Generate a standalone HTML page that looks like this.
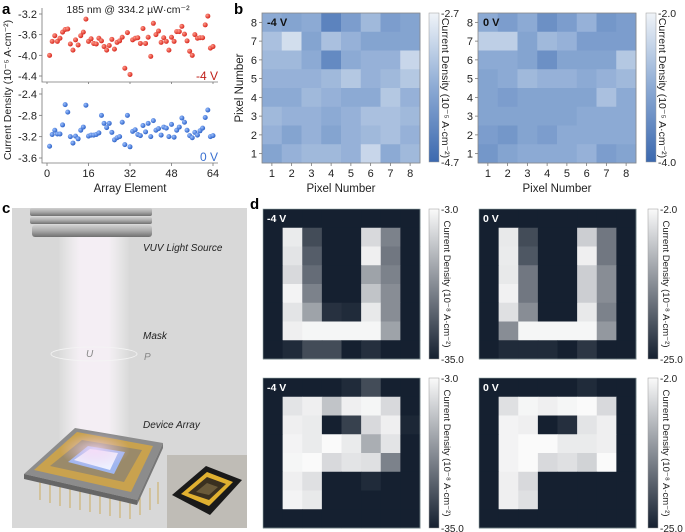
<!DOCTYPE html>
<html><head><meta charset="utf-8"><style>
html,body{margin:0;padding:0;background:#fff;}
svg{display:block;font-family:"Liberation Sans",sans-serif;}
</style></head><body>
<svg id="fig" width="685" height="532" viewBox="0 0 685 532" xmlns="http://www.w3.org/2000/svg">
<defs>
 <radialGradient id="gRed" cx="35%" cy="35%" r="65%"><stop offset="0" stop-color="#ff9a8a"/><stop offset="1" stop-color="#d8281e"/></radialGradient>
 <radialGradient id="gBlue" cx="35%" cy="35%" r="65%"><stop offset="0" stop-color="#9cc0ff"/><stop offset="1" stop-color="#2e63c8"/></radialGradient>
 <linearGradient id="cbBlue" x1="0" y1="1" x2="0" y2="0"><stop offset="0" stop-color="rgb(60,105,175)"/><stop offset="0.5" stop-color="rgb(140,170,212)"/><stop offset="1" stop-color="rgb(240,244,248)"/></linearGradient>
 <linearGradient id="cbGray" x1="0" y1="1" x2="0" y2="0"><stop offset="0" stop-color="rgb(21,32,48)"/><stop offset="1" stop-color="rgb(250,250,250)"/></linearGradient>
 <linearGradient id="beam" x1="0" y1="0" x2="1" y2="0"><stop offset="0" stop-color="#fff" stop-opacity="0"/><stop offset="0.3" stop-color="#fbf4fb" stop-opacity="0.8"/><stop offset="0.7" stop-color="#fbf4fb" stop-opacity="0.8"/><stop offset="1" stop-color="#fff" stop-opacity="0"/></linearGradient>
 <linearGradient id="metal" x1="0" y1="0" x2="0" y2="1"><stop offset="0" stop-color="#d0d0d0"/><stop offset="0.5" stop-color="#a8a8a8"/><stop offset="1" stop-color="#707070"/></linearGradient>
 <radialGradient id="glow" cx="50%" cy="50%" r="50%"><stop offset="0" stop-color="#f6d8f6"/><stop offset="1" stop-color="#e8c8e8" stop-opacity="0"/></radialGradient>
</defs>
<g id="panelA"></g>
<g id="panelB"></g>
<g id="panelC">
 <rect x="12" y="208" width="235" height="320" fill="#d8d8d8"/>
 <rect x="58" y="236" width="72" height="210" fill="url(#beam)"/>
 <g>
  <rect x="30" y="208" width="122" height="8" rx="2" fill="url(#metal)"/>
  <rect x="30" y="217" width="122" height="7" rx="2" fill="url(#metal)"/>
  <rect x="32" y="225" width="120" height="12" rx="3" fill="url(#metal)"/>
 </g>
 <ellipse cx="94" cy="354" rx="43" ry="7" fill="none" stroke="#f4f4f4" stroke-width="0.8"/>
 <text x="86" y="357" font-size="10" font-style="italic" fill="#888">U</text>
 <text x="144" y="360" font-size="10" font-style="italic" fill="#888">P</text>
 <text x="143" y="251" font-size="10" font-style="italic" fill="#222">VUV Light Source</text>
 <text x="143" y="339" font-size="10" font-style="italic" fill="#222">Mask</text>
 <text x="143" y="428" font-size="10" font-style="italic" fill="#222">Device Array</text>
 <g>
  <g stroke="#c8a040" stroke-width="0.8">
   <line x1="40" y1="478" x2="40" y2="500"/><line x1="50" y1="480" x2="50" y2="503"/><line x1="60" y1="482" x2="60" y2="506"/><line x1="70" y1="484" x2="70" y2="508"/><line x1="80" y1="486" x2="80" y2="510"/><line x1="90" y1="488" x2="90" y2="512"/><line x1="100" y1="490" x2="100" y2="514"/><line x1="110" y1="492" x2="110" y2="516"/><line x1="120" y1="494" x2="120" y2="518"/><line x1="130" y1="496" x2="130" y2="519"/><line x1="140" y1="494" x2="140" y2="515"/><line x1="150" y1="488" x2="150" y2="510"/><line x1="158" y1="482" x2="158" y2="504"/>
  </g>
  <polygon points="24,474 75,428 163,443 137,500" fill="#8c8c8c"/>
  <polygon points="24,474 137,500 137,505 24,479" fill="#666"/>
  <polygon points="137,500 163,443 163,448 137,505" fill="#777"/>
  <polygon points="34,470 77,432 153,446 131,492" fill="#c9a24e"/>
  <polygon points="50,466 82,440 142,450 124,482" fill="#9a8a6a"/>
  <polygon points="68,462 88,446 125,452 114,474" fill="#9fb6f0"/>
  <polygon points="74,460 90,449 118,453 110,470" fill="#eef0ff"/>
  <ellipse cx="95" cy="450" rx="35" ry="18" fill="url(#glow)" opacity="0.8"/>
 </g>
 <g>
  <rect x="167" y="455" width="80" height="73" fill="#bfbcb6"/>
  <polygon points="172,495 206,466 242,480 210,515" fill="#1a1a1a"/>
  <polygon points="181,494 207,472 233,482 209,506" fill="#e0b030"/>
  <polygon points="188,493 207,477 226,484 209,500" fill="#3a3020"/>
  <polygon points="196,492 207,483 218,487 209,495" fill="#6a5a3a"/>
 </g>
</g>
<g id="panelD"></g>
<text x="2" y="14" font-size="15" font-weight="bold">a</text>
<text x="234" y="14" font-size="15" font-weight="bold">b</text>
<text x="2" y="213" font-size="15" font-weight="bold">c</text>
<text x="250" y="209" font-size="15" font-weight="bold">d</text>
</svg>
<script>
// ---------- Panel a data ----------
const elementTicks = [0, 16, 32, 48, 64];
const topTicks = [-3.2, -3.6, -4.0, -4.4];
const botTicks = [-2.4, -2.8, -3.2, -3.6];
const neg4V = [-4.0,-3.73,-3.62,-3.73,-3.67,-3.55,-3.5,-3.49,-3.78,-3.9,-3.7,-3.8,-3.62,-3.55,-3.3,-3.73,-3.68,-3.77,-3.78,-3.67,-3.72,-3.83,-3.9,-3.81,-3.69,-3.88,-3.75,-3.72,-3.65,-4.25,-3.56,-4.37,-3.7,-3.67,-3.66,-3.77,-3.48,-3.77,-3.65,-4.02,-3.38,-3.6,-3.53,-3.75,-3.66,-3.73,-3.9,-3.65,-3.73,-3.54,-3.54,-3.44,-3.59,-3.72,-3.92,-4.0,-3.6,-3.67,-3.66,-3.66,-3.41,-3.24,-3.86,-3.83];
const zeroV = [-3.38,-3.16,-3.08,-3.15,-3.15,-2.98,-2.6,-2.74,-3.2,-3.32,-3.19,-3.24,-3.08,-3.02,-2.61,-3.19,-3.17,-3.17,-3.16,-3.13,-2.8,-2.95,-3.03,-2.95,-3.12,-3.26,-3.22,-3.2,-2.93,-3.35,-2.8,-3.39,-3.1,-3.07,-3.16,-3.18,-2.99,-3.11,-2.95,-3.2,-2.9,-3.08,-3.05,-3.17,-3.02,-3.04,-3.2,-2.97,-3.21,-3.08,-3.02,-2.85,-2.93,-3.08,-3.18,-3.22,-3.12,-3.17,-3.09,-3.04,-2.84,-2.7,-3.2,-3.18];

// ---------- Panel b data (rows listed top = pixel 8 to bottom = pixel 1) ----------
const pixelTicks = [1,2,3,4,5,6,7,8];
const mapNeg4 = [
 [-3.7,-3.8,-3.7,-4.3,-3.9,-3.5,-3.9,-3.8],
 [-3.4,-3.0,-3.8,-3.4,-3.6,-3.8,-3.8,-3.8],
 [-3.5,-3.5,-3.7,-4.2,-3.7,-3.6,-3.6,-3.1],
 [-3.6,-3.6,-3.6,-3.5,-3.3,-3.6,-3.5,-3.3],
 [-3.7,-3.7,-3.5,-3.6,-3.7,-3.7,-3.3,-3.6],
 [-3.5,-3.6,-3.6,-3.7,-3.6,-3.4,-3.4,-3.5],
 [-3.6,-3.8,-3.6,-3.8,-3.6,-3.5,-3.4,-3.6],
 [-3.8,-3.6,-3.5,-3.5,-3.6,-3.1,-3.7,-3.5]];
const mapZero = [
 [-3.0,-3.2,-3.0,-3.4,-3.2,-2.9,-3.3,-3.2],
 [-2.5,-2.5,-3.1,-2.8,-2.9,-3.2,-3.2,-3.2],
 [-3.0,-3.0,-3.1,-3.4,-3.1,-3.1,-3.1,-2.6],
 [-3.1,-3.0,-2.8,-2.9,-2.9,-3.0,-2.9,-2.8],
 [-3.1,-3.2,-3.1,-3.1,-3.1,-3.1,-2.7,-3.0],
 [-3.1,-3.1,-3.1,-3.1,-3.1,-3.0,-3.0,-3.0],
 [-3.2,-3.3,-3.1,-3.2,-3.0,-3.0,-3.0,-3.0],
 [-3.3,-3.1,-3.0,-3.0,-3.0,-2.9,-3.2,-3.1]];
const rangeNeg4 = [-4.7, -2.7];
const rangeZero = [-4.0, -2.0];

// ---------- Panel d data (normalized intensity 0 = colorbar min, 1 = colorbar max) ----------
const uNeg4 = [
 [0,0,0,0,0,0,0,0],
 [0,.93,.2,0,0,.85,.45,0],
 [0,.9,.28,0,0,.95,.4,0],
 [0,.85,.35,0,0,.6,.45,0],
 [0,.97,.45,0,0,.75,.5,0],
 [0,.9,.6,.08,.05,.92,.5,0],
 [0,.95,.98,.98,.98,.98,.6,0],
 [0,.05,.2,.2,0,.07,0,0]];
const uZero = [
 [0,0,0,0,0,0,0,0],
 [0,.92,.2,0,0,.8,.4,0],
 [0,.93,.25,0,0,.95,.4,0],
 [0,.92,.4,0,0,.8,.5,0],
 [0,.96,.4,0,0,.8,.5,0],
 [0,.88,.5,0,0,.92,.45,0],
 [0,.5,.98,.98,.98,.98,.55,0],
 [0,.05,.05,.05,0,.1,0,0]];
const pNeg4 = [
 [0,0,0,0,.05,.2,0,0],
 [0,.9,.95,.75,.95,.98,.85,0],
 [0,.95,.93,0,.15,.85,.95,.03],
 [0,.97,.93,1,.93,.65,.9,0],
 [0,.98,1,.85,.9,.88,.45,0],
 [0,.95,.88,0,0,.05,0,0],
 [0,.97,.92,0,0,0,0,0],
 [0,0,0,0,0,0,0,0]];
const pZero = [
 [0,0,0,0,0,.05,0,0],
 [0,.88,.98,.95,.98,1,.85,0],
 [0,.97,.95,0,.07,.9,.95,0],
 [0,.97,1,1,.93,.93,.95,0],
 [0,.97,1,.85,.88,.82,1,0],
 [0,.95,.85,0,0,0,0,0],
 [0,.95,.88,0,0,0,0,0],
 [0,0,0,0,0,0,0,0]];
const dTicksNeg4 = ["-3.0", "-35.0"];
const dTicksZero = ["-2.0", "-25.0"];

const NS = "http://www.w3.org/2000/svg";
function mk(parent, tag, attrs, text) {
  const e = document.createElementNS(NS, tag);
  for (const k in attrs) e.setAttribute(k, attrs[k]);
  if (text !== undefined) e.textContent = text;
  parent.appendChild(e);
  return e;
}

// ===== Panel a =====
(function(){
  const g = document.getElementById('panelA');
  const x = i => 47 + i * (166/64);
  const yTop = v => 14 + (-3.2 - v) * (62/1.2);
  const yBot = v => 94 + (-2.4 - v) * (64/1.2);
  let e;
  e = mk(g,'path',{d:'M42,8 V82 H218',fill:'none',stroke:'#777','stroke-width':0.8});
   
  e = mk(g,'path',{d:'M42,88 V163 H218',fill:'none',stroke:'#777','stroke-width':0.8});
   
  topTicks.forEach(t=>{
    mk(g,'line',{x1:39,x2:42,y1:yTop(t),y2:yTop(t),stroke:'#777','stroke-width':0.8});
    e = mk(g,'text',{x:37,y:yTop(t)+4,'text-anchor':'end','font-size':11,fill:'#222'},t.toFixed(1));
     
  });
  botTicks.forEach(t=>{
    mk(g,'line',{x1:39,x2:42,y1:yBot(t),y2:yBot(t),stroke:'#777','stroke-width':0.8});
    e = mk(g,'text',{x:37,y:yBot(t)+4,'text-anchor':'end','font-size':11,fill:'#222'},t.toFixed(1));
     
  });
  elementTicks.forEach(t=>{
    mk(g,'line',{x1:x(t),x2:x(t),y1:163,y2:166,stroke:'#777','stroke-width':0.8});
    mk(g,'line',{x1:x(t),x2:x(t),y1:82,y2:84,stroke:'#777','stroke-width':0.8});
    e = mk(g,'text',{x:x(t),y:177,'text-anchor':'middle','font-size':11,fill:'#222'},String(t));
     
  });
  neg4V.forEach((v,i)=>{
    e = mk(g,'circle',{cx:x(i+1),cy:yTop(v),r:2.5,fill:'url(#gRed)'});
     
  });
  zeroV.forEach((v,i)=>{
    e = mk(g,'circle',{cx:x(i+1),cy:yBot(v),r:2.5,fill:'url(#gBlue)'});
     
  });
  e = mk(g,'text',{x:128,y:13,'text-anchor':'middle','font-size':10.5,fill:'#222'},'185 nm @ 334.2  µW·cm⁻²');
   
  e = mk(g,'text',{x:218,y:80,'text-anchor':'end','font-size':12,fill:'#c0201a'},'-4 V');
   
  e = mk(g,'text',{x:218,y:161,'text-anchor':'end','font-size':12,fill:'#3a70d0'},'0 V');
   
  e = mk(g,'text',{x:130,y:192,'text-anchor':'middle','font-size':11.5,fill:'#222'},'Array Element');
   
  e = mk(g,'text',{x:0,y:0,'text-anchor':'middle','font-size':10.5,fill:'#222',transform:'translate(11,90) rotate(-90)'},'Current Density (10⁻⁵ A·cm⁻²)');
   
})();

function blueColor(t){
  t = Math.max(0,Math.min(1,t));
  const a=[60,105,175], m=[140,170,212], b=[240,244,248];
  let c;
  if (t<0.5){ const u=t/0.5; c=a.map((v,i)=>v+(m[i]-v)*u); }
  else { const u=(t-0.5)/0.5; c=m.map((v,i)=>v+(b[i]-v)*u); }
  return 'rgb('+c.map(Math.round).join(',')+')';
}
function grayColor(t){
  t = Math.max(0,Math.min(1,t));
  const a=[21,32,48], b=[250,250,250];
  return 'rgb('+a.map((v,i)=>Math.round(v+(b[i]-v)*t)).join(',')+')';
}

// ===== Panel b =====
(function(){
  const g = document.getElementById('panelB');
  function heat(x0, data, range, label, cbX, topLbl, botLbl, titleX){
    const w=(158)/8, h=150/8, y0=13;
    let e;
    data.forEach((row,r)=>row.forEach((v,c)=>{
      e = mk(g,'rect',{x:x0+c*w,y:y0+r*h,width:w+0.4,height:h+0.4,fill:blueColor((v-range[0])/(range[1]-range[0]))});
       
    }));
    mk(g,'rect',{x:x0,y:y0,width:158,height:150,fill:'none',stroke:'#888','stroke-width':0.8});
    pixelTicks.forEach((t,i)=>{
      const cx=x0+(i+0.5)*w, cy=y0+150-(i+0.5)*h;
      mk(g,'line',{x1:cx,x2:cx,y1:163,y2:166,stroke:'#777','stroke-width':0.8});
      mk(g,'line',{x1:x0-3,x2:x0,y1:cy,y2:cy,stroke:'#777','stroke-width':0.8});
      e = mk(g,'text',{x:cx,y:177,'text-anchor':'middle','font-size':11,fill:'#222'},String(t));
       
      e = mk(g,'text',{x:x0-5,y:cy+4,'text-anchor':'end','font-size':11,fill:'#222'},String(t));
       
    });
    e = mk(g,'text',{x:x0+5,y:y0+13,'font-size':11,'font-weight':'bold',fill:'#111'},label);
     
    e = mk(g,'text',{x:x0+79,y:192,'text-anchor':'middle','font-size':11.5,fill:'#222'},'Pixel Number');
     
    e = mk(g,'rect',{x:cbX,y:13,width:10,height:149,fill:'url(#cbBlue)',stroke:'#999','stroke-width':0.5});
     
    e = mk(g,'text',{x:cbX+12,y:17,'font-size':10.5,fill:'#222'},topLbl);
     
    e = mk(g,'text',{x:cbX+12,y:166,'font-size':10.5,fill:'#222'},botLbl);
     
    e = mk(g,'text',{x:0,y:0,'text-anchor':'middle','font-size':10.5,fill:'#222',transform:'translate('+titleX+',88) rotate(90)'},'Current Density (10⁻⁵ A·cm⁻²)');
     
  }
  heat(262, mapNeg4, rangeNeg4, '-4 V', 429, '-2.7', '-4.7', 442);
  heat(478, mapZero, rangeZero, '0 V', 646, '-2.0', '-4.0', 659);
  const e = mk(g,'text',{x:0,y:0,'text-anchor':'middle','font-size':11.5,fill:'#222',transform:'translate(243,88) rotate(-90)'},'Pixel Number');
   
})();

// ===== Panel d =====
(function(){
  const g = document.getElementById('panelD');
  function heat(x0, y0, data, label, cbX, ticks, titleX){
    const w=157/8, h=150/8;
    let e;
    data.forEach((row,r)=>row.forEach((v,c)=>{
      e = mk(g,'rect',{x:x0+c*w,y:y0+r*h,width:w+0.4,height:h+0.4,fill:grayColor(v)});
       
    }));
    mk(g,'rect',{x:x0,y:y0,width:157,height:150,fill:'none',stroke:'#9aa','stroke-width':0.6});
    e = mk(g,'text',{x:x0+4,y:y0+13,'font-size':10.5,'font-weight':'bold',fill:'#fff'},label);
     
    e = mk(g,'rect',{x:cbX,y:y0,width:10,height:150,fill:'url(#cbGray)',stroke:'#999','stroke-width':0.5});
     
    e = mk(g,'text',{x:cbX+12,y:y0+4,'font-size':10,fill:'#222'},ticks[0]);
     
    e = mk(g,'text',{x:cbX+12,y:y0+154,'font-size':10,fill:'#222'},ticks[1]);
     
    e = mk(g,'text',{x:0,y:0,'text-anchor':'middle','font-size':9.5,fill:'#222',transform:'translate('+titleX+','+(y0+75)+') rotate(90)'},'Current Density (10⁻⁸ A·cm⁻²)');
     
  }
  heat(263, 209, uNeg4, '-4 V', 429, dTicksNeg4, 444);
  heat(479, 209, uZero, '0 V', 648, dTicksZero, 663);
  heat(263, 378, pNeg4, '-4 V', 429, dTicksNeg4, 444);
  heat(479, 378, pZero, '0 V', 648, dTicksZero, 663);
})();
</script>
</body></html>
